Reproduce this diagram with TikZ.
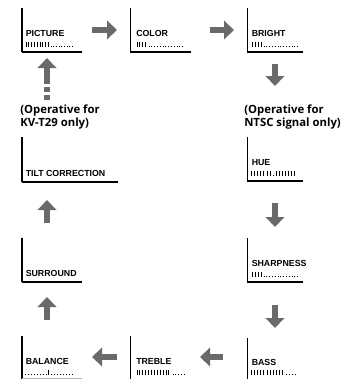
\documentclass[tikz,border=0pt]{standalone}
\usepackage{fontspec}
\setmainfont{Liberation Sans}
\newfontfamily\opfont{Open Sans}
\usetikzlibrary{arrows.meta}
\definecolor{arrgray}{HTML}{6A6A6A}
\tikzset{
  lbl/.style={anchor=base west, inner sep=0pt, font=\fontsize{6.6}{7}\selectfont\bfseries},
  opnote/.style={anchor=north west, inner sep=0pt, font=\opfont\fontsize{8.5}{9.4}\selectfont\bfseries, align=left},
  vframe/.style={line width=1pt, black},
  hframe/.style={line width=1.15pt, black},
  blk/.style={line width=3.9pt, arrgray, -{Triangle[length=7.5pt,width=13.8pt]}},
  tk/.style={line width=0.75pt, black},
}
% ticks: x0, count, spacing, top y
\newcommand\tickrun[4]{\foreach \i in {1,...,#2}{\draw[tk] ({#1+#3*(\i-1)},#4) -- ++(0,5);}}
% dots: x0, count, spacing, top y
\newcommand\dotrun[4]{\foreach \i in {1,...,#2}{\fill ({#1+#3*(\i-1)-0.5},{#4+4}) rectangle ++(1,1);}}
\begin{document}
\begin{tikzpicture}[x=0.75pt,y=-0.75pt]
\useasboundingbox (0,0) rectangle (350,379);
% ---- boxes (L frames) ----
% PICTURE
\draw[vframe] (22,8) -- (22,52);\draw[hframe] (21.5,52) -- (82,52);
\node[lbl] (picture) at (25.5,36.7) {PICTURE};
\tickrun{26}{9}{2.8}{42}\dotrun{51}{9}{2.7}{42}
% COLOR
\draw[vframe] (130.5,8) -- (130.5,52);\draw[hframe] (130,52) -- (191,52);
\node[lbl] (color) at (136,36.7) {COLOR};
\tickrun{137}{4}{2.9}{42}\dotrun{149}{13}{2.8}{42}
% BRIGHT
\draw[vframe] (247.5,8) -- (247.5,52);\draw[hframe] (247,52) -- (303,52);
\node[lbl] (bright) at (251.5,36.7) {BRIGHT};
\tickrun{252.5}{4}{2.9}{42}\dotrun{264}{13}{2.8}{42}
% HUE
\draw[vframe] (247.5,137) -- (247.5,181);\draw[hframe] (247,181) -- (303,181);
\node[lbl] (hue) at (251.5,165.7) {HUE};
\tickrun{251.5}{7}{3.1}{171}\dotrun{273.5}{1}{3}{171}\tickrun{276}{7}{3.1}{171}
% SHARPNESS
\draw[vframe] (247.5,238) -- (247.5,282);\draw[hframe] (247,282) -- (303,282);
\node[lbl] (sharp) at (251.5,266.7) {SHARPNESS};
\tickrun{252.5}{4}{2.9}{272}\dotrun{264}{13}{2.8}{272}
% BASS
\draw[vframe] (247.5,338) -- (247.5,379);
\node[lbl] (bass) at (251.5,365.5) {BASS};
\tickrun{251.5}{11}{3.1}{370}\dotrun{286}{4}{3}{370}
% TREBLE
\draw[vframe] (130.5,335.5) -- (130.5,379);
\node[lbl] (treble) at (136,364.5) {TREBLE};
\tickrun{137}{12}{2.9}{369.5}\dotrun{173}{5}{2.8}{369.5}
% BALANCE
\draw[vframe] (22,335.5) -- (22,379);\draw[line width=0.8pt, black!30] (22,378.2) -- (82,378.2);
\node[lbl] (balance) at (25.5,364.5) {BALANCE};
\dotrun{25}{8}{3}{369.5}\tickrun{48.5}{1}{3}{369.5}\dotrun{51.5}{8}{3}{369.5}
% SURROUND
\draw[vframe] (22,238) -- (22,282);\draw[hframe] (21.5,282) -- (82,282);
\node[lbl] (surround) at (25.5,276.7) {SURROUND};
% TILT CORRECTION
\draw[vframe] (22,137) -- (22,182);\draw[hframe] (21.5,182) -- (118,182);
\node[lbl] (tilt) at (25.5,176.7) {TILT CORRECTION};
% ---- notes ----
\node[opnote] (noteL) at (20,105) {(Operative for\\KV-T29 only)};
\node[opnote] (noteR) at (244,105) {(Operative for\\NTSC signal only)};
% ---- arrow end points ----
\coordinate (a1s) at (92,30);  \coordinate (a1e) at (117,30);
\coordinate (a2s) at (210,30); \coordinate (a2e) at (234,30);
\coordinate (a3s) at (275,64); \coordinate (a3e) at (275,86);
\coordinate (a4s) at (275,203);\coordinate (a4e) at (275,227);
\coordinate (a5s) at (275,305);\coordinate (a5e) at (275,328);
\coordinate (a6s) at (223,357);\coordinate (a6e) at (200,357);
\coordinate (a7s) at (117,357);\coordinate (a7e) at (92,357);
\coordinate (a8s) at (47,320); \coordinate (a8e) at (47,297);
\coordinate (a9s) at (47,223); \coordinate (a9e) at (47,200);
\coordinate (dbot) at (47,100);\coordinate (dmid) at (47,83); \coordinate (dtop) at (47,58);
% ---- arrows ----
\draw[blk] (a1s) -- (a1e);
\draw[blk] (a2s) -- (a2e);
\draw[blk] (a3s) -- (a3e);
\draw[blk] (a4s) -- (a4e);
\draw[blk] (a5s) -- (a5e);
\draw[blk] (a6s) -- (a6e);
\draw[blk] (a7s) -- (a7e);
\draw[blk] (a8s) -- (a8e);
\draw[blk] (a9s) -- (a9e);
\draw[line width=3.9pt, arrgray, dash pattern=on 3.8pt off 2.3pt] (dbot) -- (dmid);
\draw[blk] (dmid) -- (dtop);
\end{tikzpicture}
\end{document}
